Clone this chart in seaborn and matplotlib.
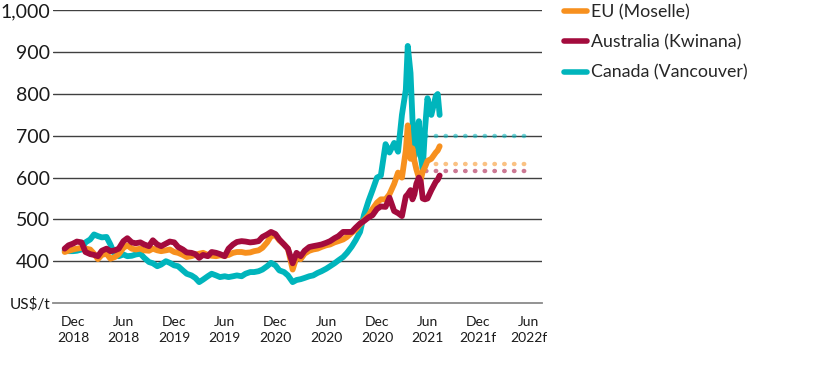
"""Steel/commodity price chart: EU, Australia and Canada spot prices with forecasts."""
import matplotlib

matplotlib.use("Agg")
import matplotlib.pyplot as plt
import pandas as pd
import seaborn as sns

# Semi-monthly readings, with a few extra points in the volatile 2021 stretch.
dates = [
    "2017-11-01", "2017-11-15", "2017-12-01", "2017-12-15",
    "2018-01-01", "2018-01-15", "2018-02-01", "2018-02-15",
    "2018-03-01", "2018-03-15", "2018-04-01", "2018-04-15",
    "2018-05-01", "2018-05-15", "2018-06-01", "2018-06-15",
    "2018-07-01", "2018-07-15", "2018-08-01", "2018-08-15",
    "2018-09-01", "2018-09-15", "2018-10-01", "2018-10-15",
    "2018-11-01", "2018-11-15", "2018-12-01", "2018-12-15",
    "2019-01-01", "2019-01-15", "2019-02-01", "2019-02-15",
    "2019-03-01", "2019-03-15", "2019-04-01", "2019-04-15",
    "2019-05-01", "2019-05-15", "2019-06-01", "2019-06-15",
    "2019-07-01", "2019-07-15", "2019-08-01", "2019-08-15",
    "2019-09-01", "2019-09-15", "2019-10-01", "2019-10-15",
    "2019-11-01", "2019-11-15", "2019-12-01", "2019-12-15",
    "2020-01-01", "2020-01-15", "2020-02-01", "2020-02-15",
    "2020-03-01", "2020-03-15", "2020-04-01", "2020-04-15",
    "2020-05-01", "2020-05-15", "2020-06-01", "2020-06-15",
    "2020-07-01", "2020-07-15", "2020-08-01", "2020-08-15",
    "2020-09-01", "2020-09-15", "2020-10-01", "2020-10-15",
    "2020-11-01", "2020-11-15", "2020-12-01", "2020-12-15",
    "2021-01-01", "2021-01-15", "2021-02-01", "2021-02-15",
    "2021-03-01", "2021-03-15", "2021-03-22", "2021-04-01",
    "2021-04-08", "2021-04-15", "2021-04-22", "2021-05-01",
    "2021-05-08", "2021-05-15", "2021-05-23", "2021-06-01",
    "2021-06-15", "2021-07-01", "2021-07-08", "2021-07-15",
]
eu_moselle = [
    422, 425, 428, 430, 432, 430, 428, 418,
    405, 415, 418, 406, 410, 417, 432, 438,
    430, 428, 430, 426, 425, 430, 426, 424,
    426, 428, 422, 420, 415, 410, 412, 415,
    418, 420, 415, 413, 412, 414, 413, 415,
    420, 422, 422, 420, 421, 424, 426, 432,
    445, 460, 462, 450, 440, 430, 380, 410,
    405, 418, 425, 428, 430, 434, 438, 440,
    445, 448, 452, 458, 468, 475, 488, 498,
    510, 525, 540, 548, 548, 560, 585, 612,
    600, 665, 725, 645, 670, 640, 620, 600,
    595, 615, 625, 640, 645, 660, 665, 675,
]
australia_kwinana = [
    430, 438, 442, 447, 445, 422, 417, 415,
    412, 425, 430, 424, 426, 430, 448, 455,
    445, 443, 445, 440, 436, 450, 440, 436,
    442, 447, 445, 434, 428, 421, 420, 417,
    408, 415, 412, 422, 420, 417, 412, 430,
    440, 446, 448, 447, 445, 446, 448, 458,
    464, 470, 465, 452, 440, 430, 395, 420,
    412, 425, 434, 436, 438, 440, 444, 448,
    455, 460, 470, 470, 470, 480, 490, 496,
    505, 510, 525, 531, 530, 552, 520, 515,
    508, 555, 560, 570, 548, 560, 585, 600,
    590, 550, 548, 550, 570, 590, 595, 605,
]
canada_vancouver = [
    425, 424, 424, 425, 428, 445, 452, 464,
    460, 457, 458, 440, 415, 412, 416, 412,
    413, 416, 418, 408, 398, 395, 388, 392,
    400, 396, 390, 388, 378, 370, 366, 360,
    350, 356, 364, 370, 366, 362, 364, 362,
    364, 366, 364, 370, 374, 374, 376, 380,
    388, 396, 390, 378, 374, 366, 350, 355,
    357, 360, 364, 366, 372, 376, 382, 388,
    395, 402, 410, 420, 435, 450, 470, 510,
    545, 570, 600, 605, 680, 660, 683, 662,
    750, 810, 915, 850, 740, 650, 700, 735,
    650, 620, 714, 790, 750, 795, 800, 750,
]

forecast_dates = ["2021-05-25", "2022-05-25"]
eu_forecast = [633, 633]
australia_forecast = [617, 617]
canada_forecast = [700, 700]

series_names = ["EU (Moselle)", "Australia (Kwinana)", "Canada (Vancouver)"]
series_colors = ["#F7901E", "#A30B3D", "#00B5BC"]

tick_dates = [
    "2017-12-01", "2018-06-01", "2018-12-01", "2019-06-01", "2019-12-01",
    "2020-06-01", "2020-12-01", "2021-06-01", "2021-12-01", "2022-06-01",
]
tick_labels = [
    "Dec\n2018", "Jun\n2018", "Dec\n2019", "Jun\n2019", "Dec\n2020",
    "Jun\n2020", "Dec\n2020", "Jun\n2021", "Dec\n2021f", "Jun\n2022f",
]
y_ticks = [300, 400, 500, 600, 700, 800, 900, 1000]
y_tick_labels = ["US$/t", "400", "500", "600", "700", "800", "900", "1,000"]


def main():
    sns.set_style("white")
    plt.rcParams["font.family"] = ["Lato", "DejaVu Sans"]

    history = pd.DataFrame({
        "date": pd.to_datetime(dates),
        series_names[0]: eu_moselle,
        series_names[1]: australia_kwinana,
        series_names[2]: canada_vancouver,
    })
    forecast = pd.DataFrame({
        "date": pd.to_datetime(forecast_dates),
        series_names[0]: eu_forecast,
        series_names[1]: australia_forecast,
        series_names[2]: canada_forecast,
    })

    fig = plt.figure(figsize=(8.16, 3.66), dpi=100)
    ax = fig.add_axes([53 / 816, 1 - 303 / 366, 489 / 816, 293 / 366])

    # Canada underneath, Australia on top, as in the original.
    zorders = {series_names[0]: 3, series_names[1]: 4, series_names[2]: 2}
    for name, color in zip(series_names, series_colors):
        sns.lineplot(data=forecast, x="date", y=name, ax=ax, color=color,
                     alpha=0.55, lw=3.2, linestyle=(0, (0.1, 2.1)),
                     dash_capstyle="round", zorder=zorders[name])
        sns.lineplot(data=history, x="date", y=name, ax=ax, color=color,
                     lw=4.2, solid_capstyle="round", solid_joinstyle="round",
                     zorder=zorders[name] + 2, label=name)

    ax.set_xlim(pd.Timestamp("2017-09-20"), pd.Timestamp("2022-07-19"))
    ax.set_ylim(300, 1001)
    ax.set_xlabel("")
    ax.set_ylabel("")

    ax.set_yticks(y_ticks)
    ax.set_yticklabels(y_tick_labels)
    ax.tick_params(axis="y", length=0, pad=2, labelsize=14, colors="#1a1a1a")
    ax.get_yticklabels()[0].set_fontsize(11)

    ax.set_xticks(pd.to_datetime(tick_dates))
    ax.set_xticklabels(tick_labels)
    ax.tick_params(axis="x", length=6, width=1, color="#999999", pad=3,
                   labelsize=10, labelcolor="#1a1a1a")
    for label in ax.get_xticklabels():
        label.set_linespacing(1.4)

    ax.yaxis.grid(True, color="#404040", lw=1)
    ax.get_ygridlines()[0].set_visible(False)
    for side in ["left", "top", "right"]:
        ax.spines[side].set_visible(False)
    ax.spines["bottom"].set_color("#8a8a8a")
    ax.spines["bottom"].set_linewidth(1.3)

    handles, labels = ax.get_legend_handles_labels()
    ax.get_legend().remove()
    leg = fig.legend(handles, labels, loc="upper left",
                     bbox_to_anchor=(564 / 816, 1 - 4 / 366), frameon=False,
                     fontsize=12.8, handlelength=1.3, handletextpad=0.2,
                     labelspacing=0.8, borderpad=0, borderaxespad=0)
    for line in leg.get_lines():
        line.set_linewidth(4)
        line.set_solid_capstyle("round")

    fig.savefig("out.png", dpi=100)
    plt.close(fig)


if __name__ == "__main__":
    main()
